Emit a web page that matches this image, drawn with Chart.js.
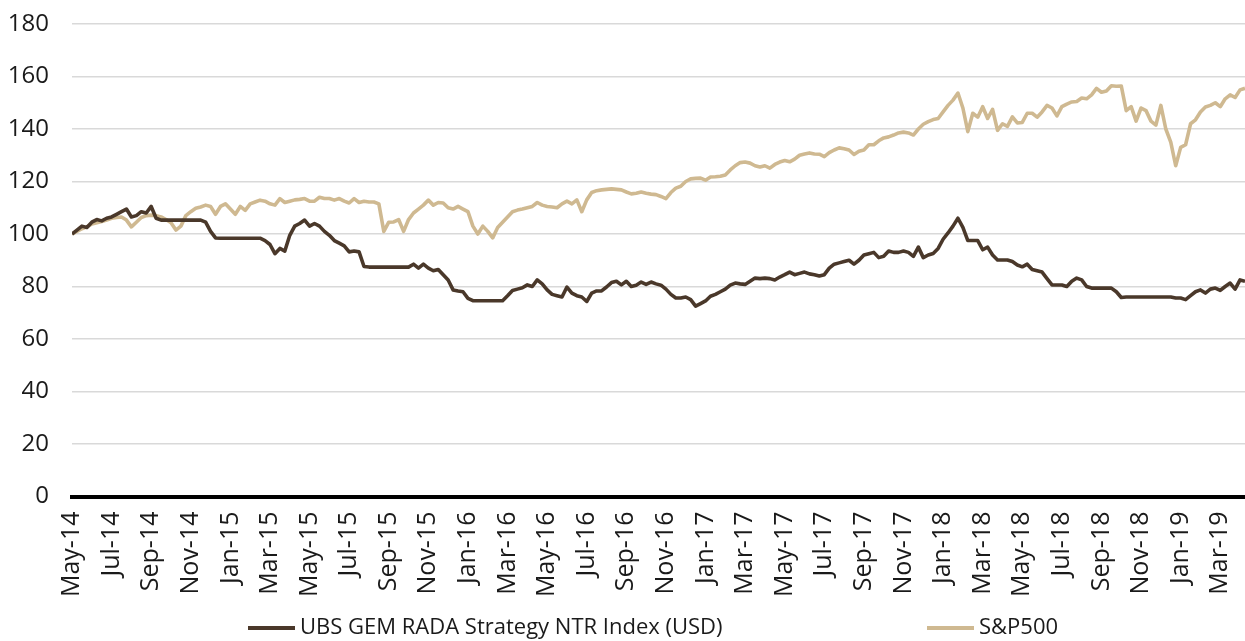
<!DOCTYPE html>
<html>
<head>
<meta charset="utf-8">
<script src="https://cdn.jsdelivr.net/npm/chart.js@4/dist/chart.umd.min.js"></script>
<style>
  html, body { margin: 0; padding: 0; background: #ffffff; }
  #wrap { width: 1245px; height: 641px; position: relative; }
</style>
</head>
<body>
<div id="wrap"><canvas id="c" width="1245" height="641"></canvas></div>
<script>
// Tick labels (every 2 months, starting May-14)
const tickLabels = ["May-14","Jul-14","Sep-14","Nov-14","Jan-15","Mar-15","May-15","Jul-15","Sep-15","Nov-15",
  "Jan-16","Mar-16","May-16","Jul-16","Sep-16","Nov-16","Jan-17","Mar-17","May-17","Jul-17","Sep-17","Nov-17",
  "Jan-18","Mar-18","May-18","Jul-18","Sep-18","Nov-18","Jan-19","Mar-19"];
// Observations are weekly (quarter-month steps) from the start of May-14
const stepMonths = 0.25;
const seriesNames = ["UBS GEM RADA Strategy NTR Index (USD)", "S&P500"];

const ubsValues = [
 100,101.5,103,102.5,104.5,105.5,105,106,106.5,107.5,
 108.5,109.5,106.5,107,108.5,108,110.5,106,105.3,105.3,
 105.3,105.3,105.3,105.3,105.3,105.3,105.3,104.5,101,98.5,
 98.4,98.4,98.4,98.4,98.4,98.4,98.4,98.4,98.4,97.5,
 96,92.5,94.5,93.5,99.5,103,104,105.3,103,104,
 103,101,99.5,97.5,96.5,95.5,93.2,93.5,93.2,87.6,
 87.4,87.4,87.4,87.4,87.4,87.4,87.4,87.4,87.4,88.5,
 87,88.5,87,86,86.5,84.5,82.5,78.7,78.3,78,
 75.5,74.6,74.6,74.6,74.6,74.6,74.6,74.6,76.5,78.5,
 79,79.5,80.6,80,82.5,81,78.7,77,76.5,76,
 79.8,77.5,76.5,76,74.3,77.5,78.3,78.3,79.8,81.5,
 82,80.6,82,80,80.5,81.7,80.8,81.7,81,80.5,
 79,77,75.6,75.6,76,75,72.5,73.5,74.5,76.3,
 77,78,79,80.5,81.3,81,80.8,82,83.2,83,
 83.2,83,82.5,83.6,84.5,85.5,84.5,85,85.5,84.8,
 84.5,84,84.5,87,88.5,89,89.5,90,88.5,90,
 92,92.5,93,91,91.5,93.5,93,93,93.5,93,
 91.5,95,91,92,92.6,94.5,98,100.4,103,106,
 102.5,97.5,97.5,97.5,94,95,92,90.1,90.1,90.1,
 89.5,88.2,87.5,88.5,86.5,86,85.5,83,80.6,80.6,
 80.6,80,82,83.2,82.5,80,79.4,79.4,79.4,79.4,
 79.4,78,75.8,76,76,76,76,76,76,76,
 76,76,76,75.6,75.6,75,76.5,78,78.7,77.5,
 79,79.4,78.5,80,81.3,79,82.5,82
];

const spxValues = [
 100,101,102,102.7,103.8,104.3,104.8,105.3,106,106.3,
 106.5,105.3,102.7,104.5,106.3,107,107.2,107,106.5,105.5,
 104.3,101.5,103,107,108.5,109.8,110.3,111,110.5,107.5,
 110.5,111.5,109.5,107.5,110.5,109,111.5,112.2,112.9,112.5,
 111.5,111,113.5,112,112.5,113,113.2,113.5,112.5,112.5,
 114,113.5,113.5,112.9,113.5,112.5,111.8,113.5,112,112.5,
 112.2,112.2,111.5,101,104.5,104.6,105.5,101,105.5,108,
 109.5,111,112.9,111,112,111.8,110,109.5,110.5,109.5,
 108.5,103,100,103,101,98.5,102.5,104.5,106.5,108.5,
 109.1,109.5,110,110.5,112,111,110.5,110.3,110,111.5,
 112.5,111.5,113,108.5,113,115.8,116.5,116.8,117,117.2,
 117,116.8,116,115.3,115.5,116,115.5,115.2,115,114.3,
 113.5,115.8,117.5,118.2,120,121,121.2,121.3,120.5,121.7,
 121.8,122,122.5,124.4,126,127.2,127.4,127,126,125.5,
 126,125.1,126.5,127.4,128,127.5,128.5,130,130.5,130.9,
 130.5,130.4,129.5,131,132,132.8,132.5,132,130.3,131.5,
 132,134,134,135.5,136.6,137,137.7,138.5,138.8,138.5,
 137.7,140,141.8,142.8,143.6,144,146.5,149,151,153.7,
 148,139,146,144.5,148.5,144,147.5,139.5,142,141,
 144.6,142.3,142.5,146,146,144.5,146.5,149,148,145,
 148.5,149.5,150.3,150.5,151.8,151.5,153,155.5,154,154.5,
 156.5,156.3,156.4,147,148.5,143,148,147,143,141.5,
 149,140,135,126,133,134,142,143.5,146.5,148.4,
 149,150,148.5,151.5,153,152,154.9,155.5
];

const yTicks = [0, 20, 40, 60, 80, 100, 120, 140, 160, 180];

const colors = { ubs: "#4a382a", spx: "#cfb991", grid: "#d9d9d9", axis: "#000000", text: "#1a1a1a" };
const FONT = "'Open Sans', 'Noto Sans', sans-serif";

const toPoints = arr => arr.map((v, i) => ({ x: i * stepMonths, y: v }));

const customLegend = {
  id: 'customLegend',
  afterDraw(chart) {
    const ctx = chart.ctx;
    const y = 628;
    const items = [
      { x: 248, color: colors.ubs, text: seriesNames[0] },
      { x: 927, color: colors.spx, text: seriesNames[1] }
    ];
    ctx.save();
    ctx.font = "22px " + FONT;
    ctx.textBaseline = 'middle';
    ctx.textAlign = 'left';
    items.forEach(it => {
      ctx.strokeStyle = it.color;
      ctx.lineWidth = 4;
      ctx.beginPath();
      ctx.moveTo(it.x, y);
      ctx.lineTo(it.x + 47, y);
      ctx.stroke();
      ctx.fillStyle = colors.text;
      ctx.fillText(it.text, it.x + 52, y);
    });
    ctx.restore();
  }
};

new Chart(document.getElementById('c'), {
  type: 'line',
  data: {
    datasets: [
      { label: seriesNames[0], data: toPoints(ubsValues), borderColor: colors.ubs, backgroundColor: colors.ubs,
        borderWidth: 3.6, pointRadius: 0, tension: 0, fill: false, borderJoinStyle: 'round' },
      { label: seriesNames[1], data: toPoints(spxValues), borderColor: colors.spx, backgroundColor: colors.spx,
        borderWidth: 3.6, pointRadius: 0, tension: 0, fill: false, borderJoinStyle: 'round' }
    ]
  },
  options: {
    responsive: false,
    animation: false,
    devicePixelRatio: 1,
    layout: { padding: { top: 24, right: 0, left: 4, bottom: 44.5 } },
    plugins: { legend: { display: false }, tooltip: { enabled: false } },
    scales: {
      x: {
        type: 'linear',
        min: 0,
        max: (spxValues.length - 1) * stepMonths,
        afterBuildTicks: scale => { scale.ticks = tickLabels.map((_, i) => ({ value: i * 2 })); },
        afterFit: scale => { scale.height = 100; scale.paddingLeft = 0; scale.paddingRight = 0; },
        ticks: {
          autoSkip: false,
          minRotation: 90, maxRotation: 90,
          padding: 15,
          color: colors.text,
          font: { family: FONT, size: 25 },
          callback: (v, i) => tickLabels[i]
        },
        grid: { display: false, drawTicks: false },
        border: { display: true, color: colors.axis, width: 4 }
      },
      y: {
        min: 0, max: 180,
        afterBuildTicks: scale => { scale.ticks = yTicks.map(v => ({ value: v })); },
        afterFit: scale => { scale.width = 68; scale.paddingTop = 0; scale.paddingBottom = 0; },
        ticks: { padding: 23, color: colors.text, font: { family: FONT, size: 24 } },
        grid: { color: colors.grid, lineWidth: 1.5, drawTicks: false },
        border: { display: false }
      }
    }
  },
  plugins: [customLegend]
});
</script>
</body>
</html>
